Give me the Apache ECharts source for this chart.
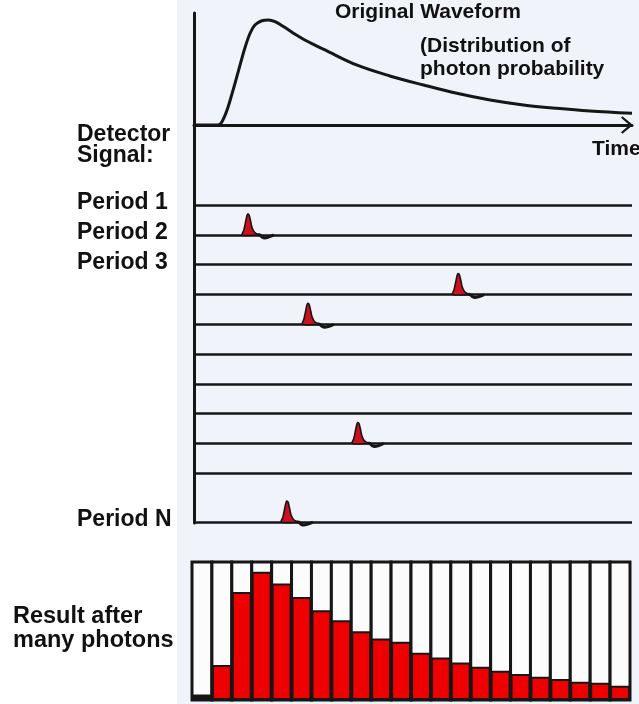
<!DOCTYPE html>
<html><head><meta charset="utf-8">
<script src="https://cdn.jsdelivr.net/npm/echarts@6/dist/echarts.min.js"></script>
<style>html,body{margin:0;padding:0;background:#fff}#c{width:639px;height:704px}</style>
</head><body><div id="c"></div>
<script>
// Original waveform (time, amplitude in % of frame)
const waveTime = [0, 5.5, 7.1, 8.6, 10.1, 11.6, 12.8, 13.9, 15.5, 17.0, 18.5, 20.8, 23.1, 25.3, 27.6, 29.9, 37.1, 44.7, 52.4, 60.0, 67.6, 75.2, 82.8, 90.4, 100];
const waveAmp  = [0, 0, 8.9, 26.8, 47.6, 68.5, 81.9, 89.3, 93.1, 93.8, 92.3, 87.0, 81.0, 75.9, 71.4, 67.0, 53.6, 43.8, 35.7, 28.3, 22.3, 17.9, 14.9, 12.5, 10.4];

// Detector signal periods (row position) and their labels
const periodRows   = [1, 2, 3, 4, 5, 6, 7, 8, 9, 10, 11.64];
const periodLabels = ['Period 1', 'Period 2', 'Period 3', '', '', '', '', '', '', '', 'Period N'];

// detected photons: which row, at which time
const photonRows  = [2, 4, 5, 9, 11.64];
const photonTimes = [12.3, 60.3, 26.0, 37.4, 21.2];

// single-photon pulse shape (time offset, height in rows)
const pulseDt  = [-1.26, -0.91, -0.57, -0.23, 0, 0.27, 0.57, 0.91, 1.37, 2.05, 2.74];
const pulseAmp = [0, 0.168, 0.403, 0.638, 0.705, 0.671, 0.503, 0.268, 0.117, 0.034, 0];
const tailDt   = [2.2, 2.74, 3.2, 3.88, 4.79, 5.94];
const tailAmp  = [0, 0, -0.067, -0.1, -0.067, 0];

// histogram after many photons (% of full height)
const binCounts = [4, 25.3, 78.3, 93.0, 84.5, 74.7, 65.1, 57.8, 49.9, 44.6, 42.2, 34.2, 30.8, 27.2, 24.1, 21.2, 18.8, 16.9, 15.2, 13.3, 12.5, 10.4];
const binNames = binCounts.map((_, i) => 'bin' + (i + 1));

const INK = '#161616';
const FONT = '"Liberation Sans", Arial, sans-serif';

const chart = echarts.init(document.getElementById('c'), null, {renderer: 'canvas'});

const hidden = {show: false};
const option = {
  animation: false,
  backgroundColor: '#ffffff',
  grid: [
    {left: 194, top: 13, width: 438, height: 112},
    {left: 194, top: 125, width: 438, height: 398},
    {left: 192, top: 562, width: 438, height: 138}
  ],
  xAxis: [
    {gridIndex: 0, type: 'value', min: 0, max: 100,
     axisLine: {show: true, lineStyle: {color: INK, width: 3},
       symbol: ['none', 'path://M0,12 L10,0 L20,12 L18.2,13.6 L10,4.2 L1.8,13.6 Z'],
       symbolSize: [20, 12], symbolOffset: [0, -5]},
     axisTick: hidden, axisLabel: hidden, splitLine: hidden},
    {gridIndex: 1, type: 'value', min: 0, max: 100, show: false},
    {gridIndex: 2, type: 'category', data: binNames, show: false}
  ],
  yAxis: [
    {gridIndex: 0, type: 'value', min: 0, max: 100,
     axisLine: {show: true, lineStyle: {color: INK, width: 3}},
     axisTick: hidden, axisLabel: hidden, splitLine: hidden},
    {gridIndex: 1, type: 'value', inverse: true, min: -1.69, max: 11.67,
     axisLine: {show: true, lineStyle: {color: INK, width: 3}},
     axisTick: hidden, axisLabel: hidden, splitLine: hidden},
    {gridIndex: 2, type: 'value', min: 0, max: 100, show: false}
  ],
  series: [
    {
      type: 'line', xAxisIndex: 0, yAxisIndex: 0,
      data: waveTime.map((t, i) => [t, waveAmp[i]]),
      smooth: 0.35, showSymbol: false, symbol: 'none',
      lineStyle: {color: INK, width: 3}, z: 3
    },
    {
      type: 'lines', coordinateSystem: 'cartesian2d', xAxisIndex: 1, yAxisIndex: 1,
      data: periodRows.map(r => ({coords: [[0, r], [100, r]]})),
      lineStyle: {color: INK, width: 2.6, opacity: 1}, z: 2
    },
    {
      type: 'custom', xAxisIndex: 1, yAxisIndex: 1,
      data: photonTimes.map((t, i) => [t, photonRows[i]]),
      renderItem: function (params, api) {
        const t = api.value(0), r = api.value(1);
        const pts = pulseDt.map((d, k) => api.coord([t + d, r - pulseAmp[k]]));
        const tail = tailDt.map((d, k) => api.coord([t + d, r - tailAmp[k]]));
        return {
          type: 'group',
          children: [
            {type: 'polyline', shape: {points: tail, smooth: 0.4},
             style: {stroke: INK, lineWidth: 3, fill: null}},
            {type: 'polygon', shape: {points: pts, smooth: 0.3},
             style: {fill: '#cc1020', stroke: INK, lineWidth: 1.6}}
          ]
        };
      },
      z: 4
    },
    {
      type: 'bar', xAxisIndex: 2, yAxisIndex: 2,
      data: binCounts.map((v, i) => i === 0 ? {value: v, itemStyle: {color: INK}} : v),
      barCategoryGap: '0%',
      itemStyle: {color: '#ee0000', borderColor: INK, borderWidth: 2},
      showBackground: true,
      backgroundStyle: {color: '#fcfcfc', borderColor: INK, borderWidth: 3, opacity: 1},
      z: 3
    }
  ],
  graphic: []
};
chart.setOption(option);

function txt(x, y, s, size) {
  return {type: 'text', left: x, top: y - size * 0.6, z: 10,
    style: {text: s, x: 0, y: 0, fill: '#111', font: 'bold ' + size + 'px ' + FONT, textVerticalAlign: 'top'}};
}
function txtMid(x, y, s, size) {
  return {type: 'text', x: x, y: y, z: 10,
    style: {text: s, fill: '#111', font: 'bold ' + size + 'px ' + FONT, textAlign: 'left', textVerticalAlign: 'middle'}};
}

const g = [
  {type: 'rect', shape: {x: 177, y: 0, width: 462, height: 704}, style: {fill: '#f0f3f9'}, z: -10},
  txtMid(335, 12, 'Original Waveform', 21),
  txtMid(420, 46, '(Distribution of', 21),
  txtMid(420, 69, 'photon probability', 21),
  txtMid(592, 149, 'Time', 21),
  txtMid(77, 135, 'Detector', 23),
  txtMid(77, 155.5, 'Signal:', 23),
  txtMid(13, 617, 'Result after', 23.5),
  txtMid(13, 641, 'many photons', 23.5)
];
periodRows.forEach((r, i) => {
  if (!periodLabels[i]) return;
  const p = chart.convertToPixel({gridIndex: 1}, [0, r]);
  g.push(txtMid(77, p[1] - 2, periodLabels[i], 23));
});
chart.setOption({graphic: g});
</script>
</body></html>
